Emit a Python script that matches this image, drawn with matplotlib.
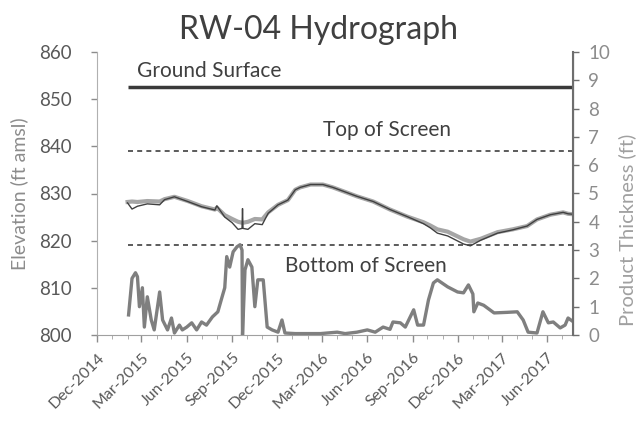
import pandas as pd
import matplotlib.pyplot as plt
import matplotlib.dates as mdates

plt.rcParams['font.family'] = ['Lato', 'DejaVu Sans']

# water level record (ft amsl): gray = measured, dark = corrected
wl_dates = ["2015-02-01", "2015-02-10", "2015-02-21", "2015-03-13", "2015-04-07",
            "2015-04-17", "2015-05-07", "2015-06-03", "2015-07-01", "2015-07-28",
            "2015-08-01", "2015-08-17", "2015-09-01", "2015-09-13", "2015-09-21",
            "2015-09-22", "2015-09-23", "2015-10-03", "2015-10-17", "2015-11-01",
            "2015-11-13", "2015-12-03", "2015-12-23", "2016-01-07", "2016-01-17",
            "2016-02-07", "2016-03-03", "2016-03-23", "2016-05-11", "2016-06-13",
            "2016-07-17", "2016-08-21", "2016-09-23", "2016-10-07", "2016-10-21",
            "2016-11-11", "2016-12-13", "2016-12-27", "2017-01-17", "2017-02-20",
            "2017-03-23", "2017-04-21", "2017-05-11", "2017-06-07", "2017-07-03",
            "2017-07-13", "2017-07-23"]
wl_gray = [828.2, 828.3, 828.2, 828.4, 828.3,
           828.8, 829.3, 828.4, 827.3, 826.6,
           827.0, 825.4, 824.6, 824.0, 823.8,
           823.8, 823.8, 824.0, 824.6, 824.5,
           826.0, 827.6, 828.6, 830.8, 831.3,
           831.9, 831.9, 831.3, 829.4, 828.3,
           826.6, 825.1, 823.9, 823.2, 822.4,
           821.9, 820.3, 819.8, 820.4, 821.8,
           822.4, 823.1, 824.5, 825.5, 826.0,
           825.7, 825.6]
wl_dark = [828.0, 826.7, 827.3, 827.8, 827.6,
           828.7, 829.3, 828.3, 827.2, 826.5,
           827.4, 825.0, 823.8, 822.4, 822.6,
           826.8, 822.6, 822.4, 823.6, 823.4,
           825.8, 827.6, 828.6, 830.8, 831.3,
           831.9, 831.9, 831.3, 829.4, 828.3,
           826.6, 825.1, 823.6, 822.7, 821.6,
           821.0, 819.3, 818.9, 820.1, 821.6,
           822.3, 823.1, 824.5, 825.5, 826.0,
           825.7, 825.6]

# product thickness (ft)
pt_dates = ["2015-02-03", "2015-02-10", "2015-02-17", "2015-02-21", "2015-02-25",
            "2015-03-03", "2015-03-07", "2015-03-13", "2015-03-21", "2015-03-27",
            "2015-04-07", "2015-04-13", "2015-04-23", "2015-05-01", "2015-05-07",
            "2015-05-17", "2015-05-23", "2015-06-01", "2015-06-11", "2015-06-21",
            "2015-07-01", "2015-07-11", "2015-07-23", "2015-08-03", "2015-08-11",
            "2015-08-17", "2015-08-21", "2015-08-27", "2015-09-03", "2015-09-11",
            "2015-09-17", "2015-09-21", "2015-09-22", "2015-09-27", "2015-10-03",
            "2015-10-11", "2015-10-17", "2015-10-23", "2015-11-03", "2015-11-11",
            "2015-11-21", "2015-12-03", "2015-12-11", "2015-12-17", "2016-01-07",
            "2016-01-17", "2016-02-27", "2016-04-01", "2016-04-17", "2016-05-11",
            "2016-06-01", "2016-06-17", "2016-07-03", "2016-07-17", "2016-07-23",
            "2016-08-07", "2016-08-17", "2016-08-27", "2016-09-03", "2016-09-11",
            "2016-09-23", "2016-10-03", "2016-10-13", "2016-10-21", "2016-11-11",
            "2016-12-01", "2016-12-13", "2016-12-23", "2017-01-01", "2017-01-03",
            "2017-01-11", "2017-01-23", "2017-02-13", "2017-03-11", "2017-04-01",
            "2017-04-13", "2017-04-23", "2017-05-11", "2017-05-23", "2017-06-03",
            "2017-06-13", "2017-06-27", "2017-07-07", "2017-07-13", "2017-07-21"]
pt_vals = [0.71, 2.0, 2.2, 2.06, 1.0,
           1.67, 0.28, 1.35, 0.53, 0.18,
           1.52, 0.53, 0.18, 0.6, 0.07,
           0.35, 0.18, 0.28, 0.43, 0.18,
           0.46, 0.35, 0.64, 0.82, 1.31,
           1.67, 2.77, 2.4, 2.94, 3.12,
           3.19, 3.0, 0.0, 2.3, 2.66,
           2.4, 1.0, 1.95, 1.95, 0.28,
           0.18, 0.1, 0.53, 0.07, 0.05,
           0.05, 0.05, 0.1, 0.05, 0.1,
           0.18, 0.1, 0.28, 0.2, 0.46,
           0.43, 0.28, 0.64, 0.89, 0.35,
           0.35, 1.24, 1.84, 1.95, 1.7,
           1.52, 1.49, 1.77, 1.45, 0.82,
           1.13, 1.05, 0.78, 0.8, 0.82,
           0.53, 0.1, 0.07, 0.82, 0.43,
           0.46, 0.25, 0.35, 0.6, 0.5]

ground_surface = 852.5
top_screen = 839.0
bottom_screen = 819.0

wl_dates = pd.to_datetime(wl_dates)
pt_dates = pd.to_datetime(pt_dates)
span = [wl_dates[0], wl_dates[-1]]

txt = '#595959'
fig = plt.figure(figsize=(6.44, 4.42), dpi=100)
ax = fig.add_axes([97 / 644, 1 - 335 / 442, 476 / 644, 283 / 442])
ax2 = ax.twinx()

ax.plot(span, [ground_surface] * 2, color='#3a3a3a', lw=2.5, solid_capstyle='butt')
ax.plot(span, [top_screen] * 2, color='#404040', lw=1.2, dashes=(3, 2.5))
ax.plot(span, [bottom_screen] * 2, color='#404040', lw=1.2, dashes=(3, 2.5))
ax.plot(wl_dates, wl_gray, color='#a6a6a6', lw=3)
ax.plot(wl_dates, wl_dark, color='#404040', lw=1)
ax2.plot(pt_dates, pt_vals, color='#7f7f7f', lw=2.4)

ax.text(pd.Timestamp("2015-02-21"), 855.9, 'Ground Surface', color='#404040',
        fontsize=15, va='center', ha='left')
ax.text(pd.Timestamp("2016-07-11"), 843.5, 'Top of Screen', color='#404040',
        fontsize=15, va='center', ha='center')
ax.text(pd.Timestamp("2016-05-29"), 814.6, 'Bottom of Screen', color='#404040',
        fontsize=15, va='center', ha='center')

ax.set_xlim(pd.Timestamp("2014-12-01"), pd.Timestamp("2017-07-23"))
ax.set_ylim(800, 860)
ax2.set_ylim(0, 10)
ax.set_yticks(range(800, 861, 10))
ax2.set_yticks(range(0, 11))

ax.xaxis.set_major_locator(mdates.MonthLocator(bymonth=[3, 6, 9, 12]))
ax.xaxis.set_minor_locator(mdates.MonthLocator())
ax.xaxis.set_major_formatter(mdates.DateFormatter('%b-%Y'))
plt.setp(ax.get_xticklabels(), rotation=45, ha='right', rotation_mode='anchor')

for a in (ax, ax2):
    a.spines['top'].set_visible(False)
    a.tick_params(colors='#8c8c8c', labelcolor=txt, width=1)
ax.spines['left'].set_color('#b0b0b0')
ax.spines['bottom'].set_color('#a0a0a0')
ax2.spines['right'].set_color('#6e6e6e')
ax2.spines['right'].set_linewidth(1.5)
ax2.spines['left'].set_visible(False)
ax2.spines['bottom'].set_visible(False)
ax.tick_params(axis='x', which='major', length=5, pad=6, labelsize=11.5)
ax.tick_params(axis='x', which='minor', length=3, colors='#a0a0a0')
ax.tick_params(axis='y', length=4, pad=14, labelsize=13.5)
ax2.tick_params(axis='y', length=4, pad=7, labelsize=13.5, colors='#6e6e6e',
                labelcolor='#8c8c8c')

ax.set_ylabel('Elevation (ft amsl)', color='#8c8c8c', fontsize=14)
ax.yaxis.set_label_coords(-0.145, 0.5)
ax2.set_ylabel('Product Thickness (ft)', color='#a0a0a0', fontsize=14.5)
ax2.yaxis.set_label_coords(1.095, 0.37)
fig.text(0.494, 0.932, 'RW-04 Hydrograph', ha='center', va='center',
         fontsize=23, color='#404040')

plt.savefig('out.png', dpi=100)
